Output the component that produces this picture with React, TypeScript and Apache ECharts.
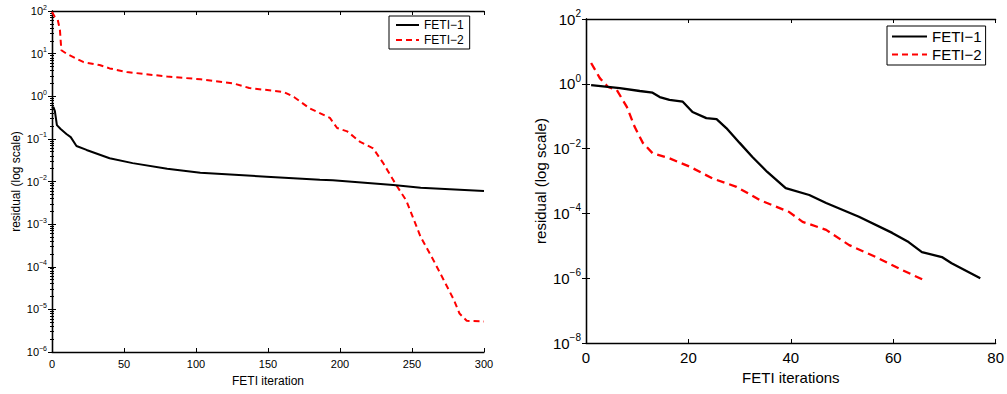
import React, { useEffect, useRef } from "react";
import * as echarts from "echarts";

// Left panel data (x = FETI iteration, y = residual)
const leftFeti1: [number, number][] = [
  [0, 0.52], [1, 0.56], [2, 0.45], [3.4, 0.21], [6, 0.17], [10, 0.13], [13, 0.11], [17, 0.068],
  [24, 0.055], [40, 0.035], [56, 0.027], [80, 0.02], [103, 0.016], [149, 0.013], [186, 0.011],
  [195, 0.0107], [237, 0.0083], [256, 0.0071], [300, 0.006],
];
const leftFeti2: [number, number][] = [
  [0, 95], [2, 72], [4, 62], [5.5, 36], [6.5, 12], [10, 10], [22, 6.3], [33, 5.4], [40, 4.5],
  [52, 3.7], [65, 3.3], [80, 2.9], [103, 2.5], [126, 2.0], [137, 1.56], [161, 1.26], [168, 0.96],
  [179, 0.52], [193, 0.31], [198, 0.18], [205, 0.15], [214, 0.085], [223, 0.06], [230, 0.027],
  [239, 0.0083], [246, 0.0036], [256, 5e-4], [265, 1.4e-4], [272, 4.9e-5], [279, 1.7e-5],
  [283, 8e-6], [288, 5.4e-6], [300, 5.2e-6],
];
// Right panel data (x = FETI iterations, y = residual)
const rightFeti1: [number, number][] = [
  [1, 0.91], [6.6, 0.74], [10.5, 0.6], [13, 0.53], [14.4, 0.39], [16.3, 0.32], [18.9, 0.28],
  [20.8, 0.135], [23.5, 0.087], [25.5, 0.081], [27.4, 0.043], [30, 0.015], [32.5, 0.0055],
  [35.4, 0.0019], [39, 6e-4], [43.6, 3.7e-4], [46.9, 2.1e-4], [53.3, 7.9e-5], [59.8, 2.5e-5],
  [63, 1.3e-5], [65.6, 6.4e-6], [69.5, 4.5e-6], [71.4, 2.9e-6], [77, 1e-6],
];
const rightFeti2: [number, number][] = [
  [1, 4.4], [2.7, 1.5], [4.3, 0.8], [6, 0.65], [8, 0.19], [9.5, 0.047], [11.1, 0.015], [13, 0.0072],
  [16.3, 0.005], [20.2, 0.0028], [24.7, 0.0012], [29.4, 6.6e-4], [33.9, 2.6e-4], [39.7, 1.1e-4],
  [42.3, 5.5e-5], [46.9, 3.1e-5], [51.4, 1.05e-5], [56.6, 4.5e-6], [61.1, 2e-6], [66, 8.7e-7],
];

const seriesNames = ["FETI\u22121", "FETI\u22122"];
const leftX = { min: 0, max: 300, interval: 50, name: "FETI iteration" };
const rightX = { min: 0, max: 80, interval: 20, name: "FETI iterations" };
const leftY = { min: 1e-6, max: 1e2, interval: 1 };
const rightY = { min: 1e-8, max: 1e2, interval: 2 };
const yName = "residual (log scale)";

const FONT = "Liberation Sans, Arial, Helvetica, sans-serif";

function expLabel(v: number) {
  const e = Math.round(Math.log10(v));
  return "10{sup|" + (e < 0 ? "\u2212" + Math.abs(e) : String(e)) + "}";
}

export default function App() {
  const ref = useRef<HTMLDivElement>(null);
  useEffect(() => {
    document.body.style.margin = "0";
    const chart = echarts.init(ref.current!, null, { renderer: "svg" });
    const axisLine = { show: true, lineStyle: { color: "#000", width: 1.3 } };
    const mkRich = (fs: number) => ({
      sup: { fontSize: Math.round(fs * 0.68), fontFamily: FONT, color: "#000", padding: [0, 0, Math.round(fs * 0.7), 0], verticalAlign: "bottom" as const },
    });

    const xAxisBase = (g: number, cfg: any, fs: number, show: boolean, pos: string) => ({
      type: "value",
      gridIndex: g,
      min: cfg.min,
      max: cfg.max,
      interval: cfg.interval,
      position: pos,
      name: show ? cfg.name : "",
      nameLocation: "middle",
      nameGap: fs === 11 ? 23 : 19,
      nameTextStyle: { fontSize: fs === 11 ? 12 : 15, color: "#000", fontFamily: FONT },
      axisLine,
      axisTick: { show: true, inside: true, length: 4, lineStyle: { color: "#000" } },
      axisLabel: { show, fontSize: fs, color: "#000", fontFamily: FONT, margin: fs === 11 ? 6 : 7 },
      splitLine: { show: false },
    });
    const yAxisBase = (g: number, cfg: any, fs: number, show: boolean, pos: string, minor: boolean, gap: number) => ({
      type: "log",
      logBase: 10,
      gridIndex: g,
      min: cfg.min,
      max: cfg.max,
      interval: cfg.interval,
      position: pos,
      name: show ? yName : "",
      nameLocation: "middle",
      nameGap: gap,
      nameTextStyle: { fontSize: fs === 11 ? 12 : 15, color: "#000", fontFamily: FONT },
      axisLine,
      axisTick: { show: true, inside: true, length: 4, lineStyle: { color: "#000" } },
      minorTick: { show: minor, splitNumber: 9, length: 2, lineStyle: { color: "#000" } },
      axisLabel: {
        show,
        formatter: expLabel,
        fontSize: fs,
        color: "#000",
        fontFamily: FONT,
        margin: 5,
        rich: mkRich(fs),
      },
      splitLine: { show: false },
      minorSplitLine: { show: false },
    });
    const hiddenSymbol = { color: "rgba(0,0,0,0)", borderWidth: 0, opacity: 0 };

    chart.setOption({
      animation: false,
      backgroundColor: "#fff",
      textStyle: { fontFamily: FONT },
      grid: [
        { left: 52, top: 11, width: 432, height: 341 },
        { left: 586, top: 19, width: 411, height: 324 },
      ],
      xAxis: [
        xAxisBase(0, leftX, 11, true, "bottom"),
        xAxisBase(0, leftX, 11, false, "top"),
        xAxisBase(1, rightX, 15, true, "bottom"),
        xAxisBase(1, rightX, 15, false, "top"),
      ],
      yAxis: [
        yAxisBase(0, leftY, 11, true, "left", true, 30),
        yAxisBase(0, leftY, 11, false, "right", true, 0),
        yAxisBase(1, rightY, 15, true, "left", false, 38),
        yAxisBase(1, rightY, 15, false, "right", false, 0),
      ],
      legend: [
        {
          left: 389, top: 16, orient: "vertical", selectedMode: false,
          backgroundColor: "#fff", borderColor: "#000", borderWidth: 1,
          padding: [3, 6, 3, 6], itemGap: 3, itemWidth: 23, itemHeight: 12,
          itemStyle: hiddenSymbol,
          textStyle: { fontSize: 12, color: "#000", fontFamily: FONT },
          data: seriesNames,
        },
        {
          left: 887, top: 26, orient: "vertical", selectedMode: false,
          backgroundColor: "#fff", borderColor: "#000", borderWidth: 1,
          padding: [3, 4, 3, 4], itemGap: 3, itemWidth: 35, itemHeight: 16,
          itemStyle: hiddenSymbol,
          textStyle: { fontSize: 15, color: "#000", fontFamily: FONT },
          data: seriesNames,
        },
      ],
      series: [
        {
          name: seriesNames[0], type: "line", xAxisIndex: 0, yAxisIndex: 0, data: leftFeti1,
          symbol: "none", lineStyle: { color: "#000", width: 2 }, itemStyle: { color: "#000" }, z: 3,
        },
        {
          name: seriesNames[1], type: "line", xAxisIndex: 0, yAxisIndex: 0, data: leftFeti2,
          symbol: "none", lineStyle: { color: "#ff0000", width: 2, type: [6, 4] }, itemStyle: { color: "#ff0000" }, z: 2,
        },
        {
          name: seriesNames[0], type: "line", xAxisIndex: 2, yAxisIndex: 2, data: rightFeti1,
          symbol: "none", lineStyle: { color: "#000", width: 2.3 }, itemStyle: { color: "#000" }, z: 3,
        },
        {
          name: seriesNames[1], type: "line", xAxisIndex: 2, yAxisIndex: 2, data: rightFeti2,
          symbol: "none", lineStyle: { color: "#ff0000", width: 2.3, type: [8, 5] }, itemStyle: { color: "#ff0000" }, z: 2,
        },
      ],
    });
    return () => chart.dispose();
  }, []);
  return <div ref={ref} style={{ width: 1007, height: 394 }} />;
}
